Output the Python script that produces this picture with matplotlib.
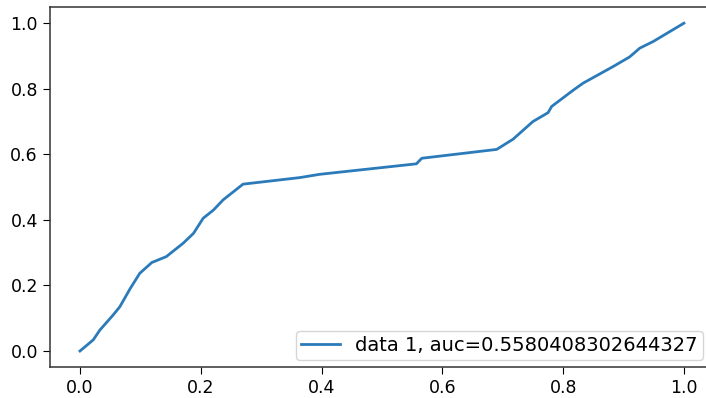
import matplotlib
matplotlib.use("Agg")
import matplotlib.pyplot as plt

# ROC-Kurve, Werte
fpr = [0.0, 0.022, 0.033, 0.055, 0.066, 0.083, 0.099, 0.119, 0.143, 0.171,
       0.188, 0.204, 0.221, 0.237, 0.27, 0.364, 0.397, 0.557, 0.566, 0.69,
       0.717, 0.75, 0.775, 0.781, 0.817, 0.833, 0.883, 0.91, 0.927, 0.949, 1.0]
tpr = [0.0, 0.034, 0.064, 0.11, 0.135, 0.19, 0.237, 0.27, 0.288, 0.329,
       0.359, 0.405, 0.43, 0.461, 0.509, 0.529, 0.539, 0.571, 0.588, 0.615,
       0.646, 0.70, 0.727, 0.746, 0.796, 0.817, 0.868, 0.897, 0.924, 0.944, 1.0]
auc = 0.5580408302644327

fig = plt.figure(figsize=(7.06, 3.98), dpi=100)
# Achse reicht rechts etwas über den Bildrand hinaus (wie im Original abgeschnitten)
ax = fig.add_axes([0.0705, 0.0769, 0.941, 0.906])

ax.plot(fpr, tpr, color="#2b7bba", linewidth=2.0, label="data 1, auc=" + str(auc))
ax.set_xticks([0.0, 0.2, 0.4, 0.6, 0.8, 1.0])
ax.set_yticks([0.0, 0.2, 0.4, 0.6, 0.8, 1.0])
ax.tick_params(labelsize=12.5, length=5)
for s in ax.spines.values():
    s.set_linewidth(1.1)
    s.set_color("#333333")
ax.spines["right"].set_visible(False)

ax.legend(loc="lower right", bbox_to_anchor=(0.983, 0.0205), borderaxespad=0,
          fontsize=14, borderpad=0.25, handlelength=2.0, handletextpad=0.8)

fig.savefig("out.png", dpi=100)
